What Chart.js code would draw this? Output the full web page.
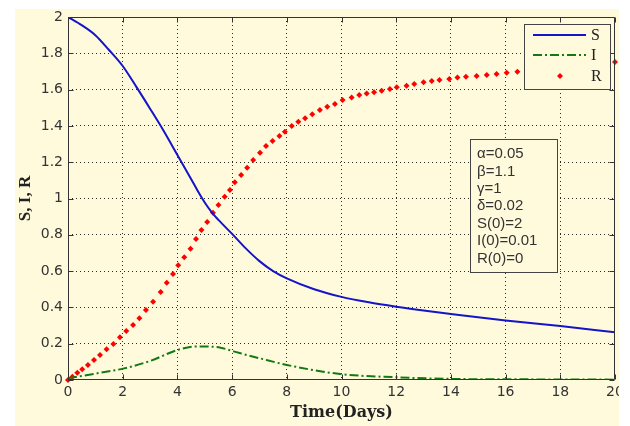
<!DOCTYPE html>
<html><head><meta charset="utf-8">
<script src="https://cdn.jsdelivr.net/npm/chart.js@4/dist/chart.umd.min.js"></script>
<style>html,body{margin:0;padding:0;background:#fff;}#wrap{width:630px;height:426px;}</style>
</head><body><div id="wrap"><canvas id="c" width="630" height="426"></canvas></div>
<script>
const seriesLabels = ['S', 'I', 'R'];

const sTimes  = [0, 0.5, 1, 1.5, 2, 2.5, 3, 3.5, 4, 4.5, 4.75, 5, 5.25, 5.5, 6, 6.5, 7, 7.5, 8, 9, 10, 11, 12, 13, 14, 16, 18, 20];
const sValues = [2.0, 1.955, 1.90, 1.818, 1.73, 1.615, 1.495, 1.372, 1.24, 1.108, 1.04, 0.978, 0.925, 0.882, 0.805, 0.725, 0.655, 0.60, 0.56, 0.50, 0.458, 0.428, 0.404, 0.383, 0.364, 0.328, 0.297, 0.263];

const iTimes  = [0, 1.07, 2.05, 3.02, 4.0, 4.73, 5.2, 5.58, 6.0, 6.31, 7.0, 8.0, 9.95, 12.0, 14.0, 16.0, 18.0, 20.0];
const iValues = [0.01, 0.037, 0.064, 0.106, 0.165, 0.185, 0.184, 0.178, 0.16, 0.147, 0.12, 0.083, 0.033, 0.015, 0.006, 0.004, 0.003, 0.002];

const rTimes  = [0, 0.16, 0.34, 0.52, 0.73, 0.95, 1.17, 1.41, 1.66, 1.90, 2.13, 2.38, 2.61, 2.85, 3.11, 3.39, 3.61, 3.84, 4.03, 4.25, 4.48, 4.68, 4.88, 5.09, 5.30, 5.50, 5.73, 5.92, 6.10, 6.33, 6.55, 6.77, 7.02, 7.24, 7.48, 7.73, 7.93, 8.18, 8.42, 8.67, 8.93, 9.21, 9.48, 9.76, 10.04, 10.37, 10.65, 10.92, 11.19, 11.47, 11.77, 12.02, 12.38, 12.66, 13.0, 13.3, 13.58, 13.94, 14.24, 14.55, 14.94, 15.31, 15.67, 16.04, 16.43, 16.8, 17.2, 17.6, 18.0, 18.4, 18.8, 19.2, 19.6, 20.0];
const rValues = [0, 0.018, 0.04, 0.059, 0.083, 0.11, 0.138, 0.169, 0.198, 0.235, 0.27, 0.303, 0.34, 0.386, 0.431, 0.485, 0.536, 0.584, 0.632, 0.676, 0.723, 0.777, 0.826, 0.870, 0.922, 0.964, 1.01, 1.047, 1.09, 1.13, 1.17, 1.212, 1.252, 1.289, 1.317, 1.344, 1.368, 1.40, 1.423, 1.442, 1.464, 1.488, 1.506, 1.521, 1.543, 1.557, 1.570, 1.579, 1.585, 1.594, 1.603, 1.613, 1.621, 1.631, 1.640, 1.647, 1.653, 1.658, 1.666, 1.671, 1.675, 1.680, 1.686, 1.693, 1.699, 1.705, 1.71, 1.716, 1.722, 1.728, 1.734, 1.740, 1.746, 1.752];

const xTickValues = [0, 2, 4, 6, 8, 10, 12, 14, 16, 18, 20];
const xTickLabels = ['0', '2', '4', '6', '8', '10', '12', '14', '16', '18', '20'];
const yTickValues = [0, 0.2, 0.4, 0.6, 0.8, 1, 1.2, 1.4, 1.6, 1.8, 2];
const yTickLabels = ['0', '0.2', '0.4', '0.6', '0.8', '1', '1.2', '1.4', '1.6', '1.8', '2'];
const xTitle = 'Time(Days)';
const yTitle = 'S, I, R';
const paramLines = ['\u03b1=0.05', '\u03b2=1.1', '\u03b3=1', '\u03b4=0.02', 'S(0)=2', 'I(0)=0.01', 'R(0)=0'];

const BG = '#fffadc';
const FRAME = '#333333';
const COLORS = ['#1414c8', '#137a13', '#ff0000'];
const I_DASH = [9, 3, 2, 3];

function pts(ts, vs) { return ts.map((t, k) => ({x: t, y: vs[k]})); }

const bgPlugin = {
  id: 'bg',
  beforeDraw(chart) {
    const c = chart.ctx;
    c.save();
    c.fillStyle = '#ffffff';
    c.fillRect(0, 0, chart.width, chart.height);
    c.fillStyle = BG;
    c.fillRect(15, 9, 604, 417);
    c.restore();
  },
  afterDraw(chart) {
    const c = chart.ctx;
    c.save();
    c.fillStyle = '#ffffff';
    c.fillRect(619, 0, chart.width - 619, chart.height);
    c.restore();
  }
};

const framePlugin = {
  id: 'frame',
  afterDatasetsDraw(chart) {
    const c = chart.ctx, a = chart.chartArea;
    const xs = chart.scales.x, ys = chart.scales.y;
    c.save();
    c.strokeStyle = FRAME;
    c.lineWidth = 1;
    const L = Math.round(a.left) + 0.5, R = Math.round(a.right) - 0.5;
    const T = Math.round(a.top) + 0.5, B = Math.round(a.bottom) - 0.5;
    c.beginPath();
    c.rect(L, T, R - L, B - T);
    const tl = 5;
    xTickValues.forEach(v => {
      const px = Math.round(xs.getPixelForValue(v)) + 0.5;
      c.moveTo(px, B); c.lineTo(px, B - tl);
      c.moveTo(px, T); c.lineTo(px, T + tl);
    });
    yTickValues.forEach(v => {
      const py = Math.round(ys.getPixelForValue(v)) + 0.5;
      c.moveTo(L, py); c.lineTo(L + tl, py);
      c.moveTo(R, py); c.lineTo(R - tl, py);
    });
    c.stroke();

    // annotation box with parameter values
    const bx = 470.5, by = 139.5, bw = 87, bh = 133;
    c.fillStyle = BG;
    c.fillRect(bx, by, bw, bh);
    c.strokeStyle = '#444';
    c.strokeRect(bx, by, bw, bh);
    c.fillStyle = '#333';
    c.font = '15px "Liberation Sans", Arial, sans-serif';
    c.textAlign = 'left';
    c.textBaseline = 'middle';
    paramLines.forEach((t, k) => c.fillText(t, 477, 154 + k * 17.4));

    // legend box
    const lx = 524.5, ly = 24.5, lw = 86, lh = 65;
    c.fillStyle = BG;
    c.fillRect(lx, ly, lw, lh);
    c.strokeStyle = '#444';
    c.strokeRect(lx, ly, lw, lh);
    const rows = [35, 55, 76];
    c.lineWidth = 2;
    c.strokeStyle = COLORS[0];
    c.beginPath(); c.moveTo(533, rows[0]); c.lineTo(586, rows[0]); c.stroke();
    c.strokeStyle = COLORS[1];
    c.setLineDash(I_DASH);
    c.beginPath(); c.moveTo(533, rows[1]); c.lineTo(586, rows[1]); c.stroke();
    c.setLineDash([]);
    c.fillStyle = COLORS[2];
    c.beginPath();
    c.moveTo(560, rows[2] - 3); c.lineTo(563, rows[2]); c.lineTo(560, rows[2] + 3); c.lineTo(557, rows[2]);
    c.closePath(); c.fill();
    c.fillStyle = '#222';
    c.font = '16px "Liberation Serif", "Times New Roman", serif';
    c.textAlign = 'left';
    c.textBaseline = 'middle';
    seriesLabels.forEach((t, k) => c.fillText(t, 591, rows[k] + 1));
    c.restore();
  }
};

const gridColor = edges => ctx => (ctx.tick && edges.includes(ctx.tick.value)) ? 'rgba(0,0,0,0)' : '#2a2a2a';

new Chart(document.getElementById('c'), {
  type: 'line',
  data: {
    datasets: [
      { label: seriesLabels[0], data: pts(sTimes, sValues), borderColor: COLORS[0], backgroundColor: COLORS[0],
        borderWidth: 2, pointRadius: 0, cubicInterpolationMode: 'monotone', fill: false },
      { label: seriesLabels[1], data: pts(iTimes, iValues), borderColor: COLORS[1], backgroundColor: COLORS[1],
        borderWidth: 2, borderDash: I_DASH, pointRadius: 0, cubicInterpolationMode: 'monotone', fill: false },
      { label: seriesLabels[2], data: pts(rTimes, rValues), borderColor: COLORS[2], backgroundColor: COLORS[2],
        showLine: false, pointStyle: 'rectRot', pointRadius: 3, pointBorderWidth: 0,
        pointBackgroundColor: COLORS[2], clip: false }
    ]
  },
  options: {
    responsive: false,
    animation: false,
    devicePixelRatio: 1,
    layout: { padding: { left: 0, right: 15, top: 17, bottom: 0 } },
    plugins: { legend: { display: false }, tooltip: { enabled: false } },
    scales: {
      x: {
        type: 'linear', min: 0, max: 20,
        afterBuildTicks: s => { s.ticks = xTickValues.map(v => ({value: v})); },
        afterFit: s => { s.height = 46; },
        ticks: { callback: (v, k) => xTickLabels[k], padding: 4, color: '#333',
                 font: { family: '"DejaVu Sans", sans-serif', size: 14 }, maxRotation: 0 },
        grid: { color: gridColor([0, 20]), lineWidth: 1, drawTicks: false },
        border: { display: false, dash: [1, 3] },
        title: { display: true, text: xTitle, color: '#222', padding: { top: 0, bottom: 3.4 },
                 font: { family: '"DejaVu Serif", serif', size: 16, weight: 'bold' } }
      },
      y: {
        type: 'linear', min: 0, max: 2,
        afterBuildTicks: s => { s.ticks = yTickValues.map(v => ({value: v})); },
        afterFit: s => { s.width = 68; },
        ticks: { callback: (v, k) => yTickLabels[k], padding: 5, color: '#333',
                 font: { family: '"DejaVu Sans", sans-serif', size: 14 } },
        grid: { color: gridColor([0, 2]), lineWidth: 1, drawTicks: false },
        border: { display: false, dash: [1, 3] },
        title: { display: true, text: yTitle, color: '#222', padding: { top: 15.4, bottom: 0 },
                 font: { family: '"Liberation Serif", "Times New Roman", serif', size: 17, weight: 'bold' } }
      }
    }
  },
  plugins: [bgPlugin, framePlugin]
});
</script>
</body></html>
